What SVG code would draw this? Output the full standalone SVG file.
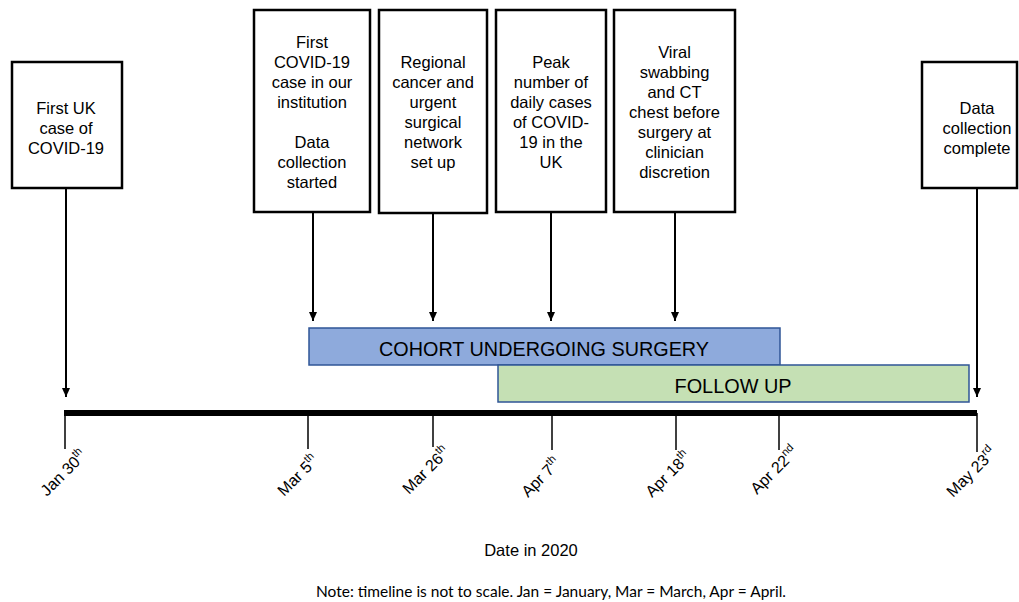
<svg xmlns="http://www.w3.org/2000/svg" width="1019" height="602" viewBox="0 0 1019 602">
<style>
.box{fill:#fff;stroke:#000;stroke-width:2.5}
.bt{font-family:"Liberation Sans",Arial,sans-serif;font-size:16.5px;fill:#000;text-anchor:middle}
.conn{stroke:#000;stroke-width:2;fill:none}
.tick{stroke:#000;stroke-width:1.5}
.dl{font-family:"Liberation Sans",Arial,sans-serif;font-size:16px;fill:#000}
.sup{font-size:11px}
.bar{font-family:"Liberation Sans",Arial,sans-serif;font-size:21px;fill:#000;text-anchor:middle}
</style>
<defs>
<marker id="ah" markerWidth="10" markerHeight="10" refX="9" refY="5" orient="auto" markerUnits="userSpaceOnUse">
<path d="M0,1 L9,5 L0,9 Z" fill="#000"/>
</marker>
</defs>
<rect width="1019" height="602" fill="#fff"/>

<g id="connectors">
<line class="conn" x1="66" y1="189" x2="66" y2="397" marker-end="url(#ah)"/>
<line class="conn" x1="313" y1="213" x2="313" y2="321" marker-end="url(#ah)"/>
<line class="conn" x1="433" y1="214" x2="433" y2="321" marker-end="url(#ah)"/>
<line class="conn" x1="551" y1="213" x2="551" y2="321" marker-end="url(#ah)"/>
<line class="conn" x1="675" y1="213" x2="675" y2="321" marker-end="url(#ah)"/>
<line class="conn" x1="977" y1="189" x2="977" y2="397" marker-end="url(#ah)"/>
</g>

<g id="node-first-uk">
<rect class="box" x="12" y="62" width="110" height="126"/>
<text class="bt"><tspan x="66" y="114">First UK</tspan><tspan x="66" y="134">case of</tspan><tspan x="66" y="154">COVID-19</tspan></text>
</g>

<g id="node-first-institution">
<rect class="box" x="254" y="10" width="116" height="202"/>
<text class="bt"><tspan x="312" y="48">First</tspan><tspan x="312" y="68">COVID-19</tspan><tspan x="312" y="88">case in our</tspan><tspan x="312" y="108">institution</tspan><tspan x="312" y="148">Data</tspan><tspan x="312" y="168">collection</tspan><tspan x="312" y="188">started</tspan></text>
</g>

<g id="node-regional">
<rect class="box" x="379" y="10" width="108" height="203"/>
<text class="bt"><tspan x="433" y="68">Regional</tspan><tspan x="433" y="88">cancer and</tspan><tspan x="433" y="108">urgent</tspan><tspan x="433" y="128">surgical</tspan><tspan x="433" y="148">network</tspan><tspan x="433" y="168">set up</tspan></text>
</g>

<g id="node-peak">
<rect class="box" x="496" y="10" width="110" height="202"/>
<text class="bt"><tspan x="551" y="68">Peak</tspan><tspan x="551" y="88">number of</tspan><tspan x="551" y="108">daily cases</tspan><tspan x="551" y="128">of COVID-</tspan><tspan x="551" y="148">19 in the</tspan><tspan x="551" y="168">UK</tspan></text>
</g>

<g id="node-viral">
<rect class="box" x="614" y="10" width="121" height="202"/>
<text class="bt"><tspan x="674.5" y="58">Viral</tspan><tspan x="674.5" y="78">swabbing</tspan><tspan x="674.5" y="98">and CT</tspan><tspan x="674.5" y="118">chest before</tspan><tspan x="674.5" y="138">surgery at</tspan><tspan x="674.5" y="158">clinician</tspan><tspan x="674.5" y="178">discretion</tspan></text>
</g>

<g id="node-data-complete">
<rect class="box" x="922" y="62" width="95" height="126"/>
<text class="bt"><tspan x="977" y="114">Data</tspan><tspan x="977" y="134">collection</tspan><tspan x="977" y="154">complete</tspan></text>
</g>

<g id="node-cohort">
<rect x="309" y="328" width="471" height="37" fill="#8eaadc" stroke="#2f5597" stroke-width="1.5"/>
<text class="bar" x="544" y="356" textLength="330" lengthAdjust="spacingAndGlyphs">COHORT UNDERGOING SURGERY</text>
</g>

<g id="node-followup">
<rect x="498" y="365" width="471" height="37" fill="#c5e0b4" stroke="#2f5597" stroke-width="1.5"/>
<text class="bar" x="733" y="393" textLength="117" lengthAdjust="spacingAndGlyphs">FOLLOW UP</text>
</g>

<g id="timeline">
<rect x="64" y="410" width="913" height="6" fill="#000"/>
<line class="tick" x1="65" y1="413" x2="65" y2="449"/>
<line class="tick" x1="308" y1="413" x2="308" y2="449"/>
<line class="tick" x1="433" y1="413" x2="433" y2="447"/>
<line class="tick" x1="552" y1="413" x2="552" y2="450"/>
<line class="tick" x1="676" y1="413" x2="676" y2="450"/>
<line class="tick" x1="779" y1="413" x2="779" y2="450"/>
<line class="tick" x1="977" y1="413" x2="977" y2="452"/>
</g>

<g id="date-labels">
<text class="dl" x="47" y="497" transform="rotate(-45 47 497)">Jan 30<tspan class="sup" dy="-7">th</tspan></text>
<text class="dl" x="284" y="497" transform="rotate(-45 284 497)">Mar 5<tspan class="sup" dy="-7">th</tspan></text>
<text class="dl" x="409" y="495" transform="rotate(-45 409 495)">Mar 26<tspan class="sup" dy="-7">th</tspan></text>
<text class="dl" x="528" y="498" transform="rotate(-45 528 498)">Apr 7<tspan class="sup" dy="-7">th</tspan></text>
<text class="dl" x="652" y="498" transform="rotate(-45 652 498)">Apr 18<tspan class="sup" dy="-7">th</tspan></text>
<text class="dl" x="757" y="495" transform="rotate(-45 757 495)">Apr 22<tspan class="sup" dy="-7">nd</tspan></text>
<text class="dl" x="953" y="498" transform="rotate(-45 953 498)">May 23<tspan class="sup" dy="-7">rd</tspan></text>
</g>

<text x="531" y="556" font-family="Liberation Sans, Arial, sans-serif" font-size="16.5" text-anchor="middle">Date in 2020</text>
<text x="551" y="597" font-family="Lato, sans-serif" font-size="15" text-anchor="middle" textLength="470" lengthAdjust="spacingAndGlyphs">Note: timeline is not to scale. Jan = January, Mar = March, Apr = April.</text>
</svg>
